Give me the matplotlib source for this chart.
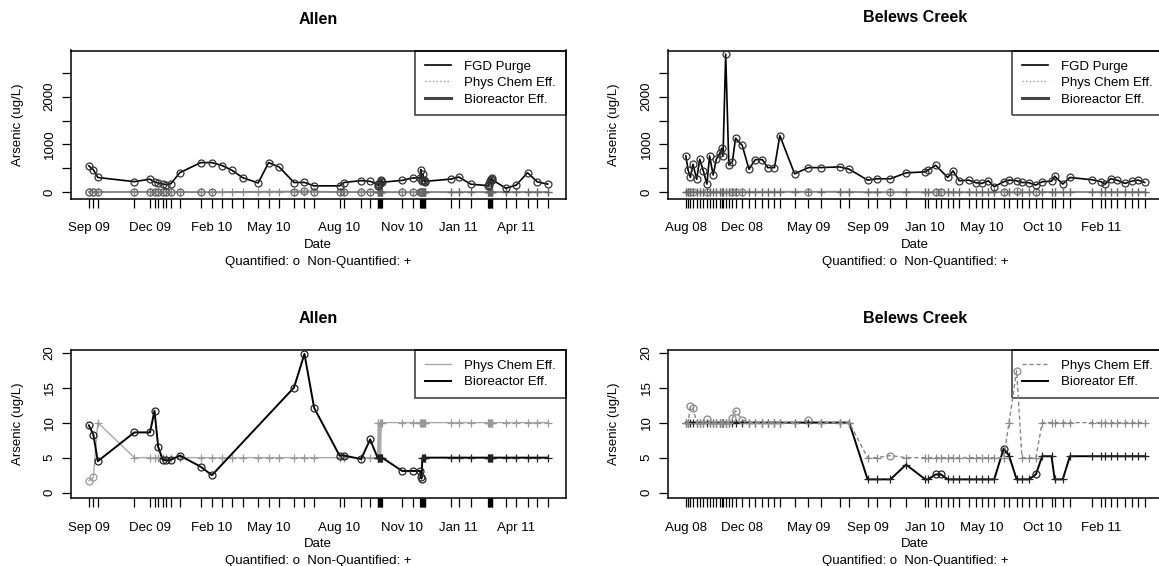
import numpy as np
import pandas as pd
import matplotlib
matplotlib.use('Agg')
import matplotlib.pyplot as plt
import matplotlib.dates as mdates
from matplotlib.lines import Line2D

plt.rcParams['font.family'] = ['Liberation Sans', 'DejaVu Sans']

# ---------------- Allen data ----------------
allen_start = '2009-09-15'
allen_day = [0, 6, 12, 61, 82, 88, 93, 99, 104, 110,
             122, 150, 165, 179, 192, 206, 227, 241, 255, 275,
             289, 302, 336, 342, 365, 377,
             387, 388, 389, 390, 391, 392, 393,
             420, 434,
             444, 445, 446, 447, 448, 449, 450, 451,
             485, 496, 512,
             535, 536, 537, 538, 539, 540, 541,
             559, 573, 588, 601, 615]
allen_fgd = [551, 474, 310, 223, 275, 216, 195, 174, 160, 181,
             411, 621, 621, 558, 460, 307, 195, 621, 530, 205,
             207, 135, 135, 205, 245, 230,
             170, 140, 160, 200, 230, 250, 210,
             250, 300,
             300, 476, 260, 230, 380, 250, 220, 230,
             276, 320, 170,
             140, 150, 190, 230, 270, 300, 260,
             85, 152, 410, 220, 170]
allen_phys = [1.7, 2.2, 10, 5, 5, 5, 5, 5, 5, 5,
              5, 5, 5, 5, 5, 5, 5, 5, 5, 5,
              5, 5, 5, 5, 5, 5,
              5, 10, 5, 10, 5, 10, 10,
              10, 10,
              10, 10, 10, 10, 10, 10, 10, 10,
              10, 10, 10,
              10, 10, 10, 10, 10, 10, 10,
              10, 10, 10, 10, 10]
allen_phys_q = "oo" + "++++++++++++++++++++++++++++++++++++++++++++++++++++++++"
nan = float('nan')
allen_bio = [9.6, 8.3, 4.5, 8.6, 8.6, 11.7, 6.5, 4.7, 4.6, 4.7,
             5.3, 3.7, 2.5, nan, nan, nan, nan, nan, nan, 15.0,
             19.8, 12.1, 5.3, 5.3, 4.8, 7.6,
             5, 5, 5, 5, 5, 5, 5,
             3.1, 3.1,
             3.1, 2.2, 2.0, 5, 5, 5, 5, 5,
             5, 5, 5,
             5, 5, 5, 5, 5, 5, 5,
             5, 5, 5, 5, 5]
allen_bio_q = ("ooooooooooooo" + "------" + "ooooooo" + "+++++++" + "oo" +
               "ooo" + "+++++" + "+++" + "+++++++" + "+++++")
allen_tick_idx = [0, 4, 12, 17, 22, 33, 44, 54]
allen_tick_labels = ['Sep 09', 'Dec 09', 'Feb 10', 'May 10', 'Aug 10',
                     'Nov 10', 'Jan 11', 'Apr 11']

# ---------------- Belews Creek data ----------------
belews_start = '2008-08-05'
belews_day = [0, 5, 10, 16, 24, 31, 39, 47, 53, 61, 68, 76, 80, 83, 89, 96, 104, 111,
              126, 141, 155, 171, 183, 198, 210, 243, 274, 301, 344, 365,
              406, 426, 457, 492,
              535, 541, 558, 570, 585, 597, 611, 632, 648, 661, 676, 689,
              710, 722, 739, 751, 766, 782, 796, 817, 824, 842, 858,
              908, 928, 936, 949, 963, 981, 996, 1010, 1025]
belews_fgd = [759, 466, 313, 586, 272, 690, 450, 174, 759, 362, 690, 816, 920, 759, 2890, 571, 640, 1130,
              979, 483, 683, 683, 517, 517, 1186, 386, 517, 517, 531, 483,
              255, 283, 283, 407,
              428, 462, 566, nan, 310, 448, 241, 255, 200, 186, 241, 117,
              221, 255, 241, 207, 200, 152, 221, 234, 338, 172, 310,
              262, 221, 166, 283, 255, 186, 234, 255, 207]
belews_phys = [10, 10, 12.3, 12.1, 10, 10, 10, 10.5, 10, 10, 10, 10, 10, 10, 10, 10, 10.6, 11.7,
               10.4, 10, 10, 10, 10, 10, 10, 10, 10.3, 10, 10, 10,
               5, 5, 5.3, 5,
               5, 5, 5, 5, 5, 5, 5, 5, 5, 5, 5, 5,
               5, 10, 17.4, 5, 5, 5, 10, 10, 10, 10, 10,
               10, 10, 10, 10, 10, 10, 10, 10, 10]
belews_phys_q = ("++" + "oo" + "+++" + "o" + "++++++++" + "ooo" + "+++++++" + "o" +
                 "+++++" + "o" + "+++++++++++++++" + "o" + "+++++++++++++++++")
belews_bio = [10, 10, 10, 10, 10, 10, 10, 10, 10, 10, 10, 10, 10, 10, 10, 10, 10, 10,
              10, 10, 10, 10, 10, 10, 10, 10, 10, 10, 10, 10,
              1.9, 1.9, 1.9, 4.0,
              1.9, 1.9, 2.6, 2.6, 1.9, 1.9, 1.9, 1.9, 1.9, 1.9, 1.9, 1.9,
              6.3, 5.3, 1.9, 1.9, 1.9, 2.6, 5.2, 5.2, 1.9, 1.9, 5.2,
              5.2, 5.2, 5.2, 5.2, 5.2, 5.2, 5.2, 5.2, 5.2]
belews_bio_q = ("++++++++++++++++++++++++++++++++++++" + "oo" + "++++++++" + "o" +
                "++++" + "o" + "++++++++++++++")
belews_tick_idx = [0, 18, 26, 30, 34, 43, 52, 58]
belews_tick_labels = ['Aug 08', 'Dec 08', 'May 09', 'Sep 09', 'Jan 10',
                      'May 10', 'Oct 10', 'Feb 11']

# ---------------- figure ----------------
W, H = 1159, 566
PT = 0.72  # points per pixel at 100 dpi
fig = plt.figure(figsize=(W / 100, H / 100), dpi=100)


def to_x(start, days):
    d = pd.Timestamp(start) + pd.to_timedelta(np.asarray(days), unit='D')
    return mdates.date2num(d.to_pydatetime())


def add_ax(l, t, r, b):
    return fig.add_axes([l / W, 1 - b / H, (r - l) / W, (b - t) / H])


def draw_series(ax, x, y, q, color, lw, mcolor, z, ls='-', dashes=None, ms=5):
    y = np.asarray(y, float)
    q = np.array(list(q))
    m = ~np.isnan(y)
    ln, = ax.plot(x[m], y[m], color=color, ls=ls, lw=lw, zorder=z)
    if dashes is not None:
        ln.set_dashes(dashes)
    mo = m & (q == 'o')
    mp = m & (q == '+')
    ax.plot(x[mo], y[mo], ls='none', marker='o', ms=ms, mfc='none', mec=mcolor,
            mew=0.9, zorder=z + 0.5)
    ax.plot(x[mp], y[mp], ls='none', marker='+', ms=ms + 1, mec=mcolor,
            mew=0.9, zorder=z + 0.5)


def setup(ax, x, tick_idx, tick_labels, ylim, ymaj, ymin, title, toff):
    span = x.max() - x.min()
    ax.set_xlim(x.min() - 0.04 * span, x.max() + 0.04 * span)
    ax.set_ylim(*ylim)
    ax.set_xticks(x[tick_idx], labels=tick_labels)
    ax.set_xticks(x, minor=True)
    ax.set_yticks(ymaj, labels=[str(v) for v in ymaj])
    ax.set_yticks(ymin, minor=True)
    ax.tick_params(which='both', direction='out', length=9 * PT, width=0.9,
                   color='black', top=False, right=False)
    ax.tick_params(axis='x', which='major', pad=14.3 * PT, labelsize=9.5)
    ax.tick_params(axis='y', which='major', pad=6 * PT, labelsize=9.5)
    for lab in ax.get_yticklabels():
        lab.set_rotation(90)
        lab.set_va('center')
    for s in ax.spines.values():
        s.set_linewidth(1.1)
        s.set_color('black')
    ax.annotate(title, xy=(0.5, 1), xycoords='axes fraction',
                xytext=(0, toff * PT), textcoords='offset points',
                ha='center', va='center', fontsize=11.5, fontweight='bold')
    ax.annotate('Date', xy=(0.5, 0), xycoords='axes fraction',
                xytext=(0, -46 * PT), textcoords='offset points',
                ha='center', va='center', fontsize=9.5)
    ax.annotate('Quantified: o  Non-Quantified: +', xy=(0.5, 0), xycoords='axes fraction',
                xytext=(0, -62.5 * PT), textcoords='offset points',
                ha='center', va='center', fontsize=9.5)
    ax.annotate('Arsenic (ug/L)', xy=(0, 0.5), xycoords='axes fraction',
                xytext=(-53 * PT, 0), textcoords='offset points',
                ha='center', va='center', rotation=90, fontsize=9.5)


def legend(ax, handles, labels):
    leg = ax.legend(handles, labels, loc='upper right', bbox_to_anchor=(1, 1),
                    borderaxespad=0, frameon=True, fancybox=False, edgecolor='black',
                    facecolor='none', framealpha=None, fontsize=9.5, handlelength=2.0,
                    handletextpad=1.0, borderpad=0.75, labelspacing=0.32)
    leg.get_frame().set_linewidth(1.1)
    leg.set_zorder(1)


xa = to_x(allen_start, allen_day)
xb = to_x(belews_start, belews_day)

top_ylim = (-140, 2966)
bot_ylim = (-0.8, 20.4)
top_maj, top_min = [0, 1000, 2000], [500, 1500, 2500]
bot_maj = [0, 5, 10, 15, 20]

# --- top left: Allen ---
ax1 = add_ax(70.5, 50.5, 566, 199)
draw_series(ax1, xa, allen_phys, allen_phys_q, '#9a9a9a', 1.0, '#888888', 2, ls=':')
draw_series(ax1, xa, allen_bio, allen_bio_q, '#888888', 1.4, '#666666', 3)
draw_series(ax1, xa, allen_fgd, 'o' * len(allen_fgd), 'black', 1.2, '#333333', 4)
setup(ax1, xa, allen_tick_idx, allen_tick_labels, top_ylim, top_maj, top_min, 'Allen', 30.5)
legend(ax1, [Line2D([], [], color='black', lw=1.2),
             Line2D([], [], color='#9a9a9a', lw=1.0, ls=':'),
             Line2D([], [], color='#444444', lw=2.2)],
       ['FGD Purge', 'Phys Chem Eff.', 'Bioreactor Eff.'])

# --- top right: Belews Creek ---
ax2 = add_ax(667.5, 50.5, 1163, 199)
draw_series(ax2, xb, belews_phys, belews_phys_q, '#9a9a9a', 1.0, '#888888', 2, ls=':')
draw_series(ax2, xb, belews_bio, belews_bio_q, '#888888', 1.4, '#666666', 3)
draw_series(ax2, xb, belews_fgd, 'o' * len(belews_fgd), 'black', 1.2, '#333333', 4)
setup(ax2, xb, belews_tick_idx, belews_tick_labels, top_ylim, top_maj, top_min, 'Belews Creek', 33)
legend(ax2, [Line2D([], [], color='black', lw=1.2),
             Line2D([], [], color='#9a9a9a', lw=1.0, ls=':'),
             Line2D([], [], color='#444444', lw=2.2)],
       ['FGD Purge', 'Phys Chem Eff.', 'Bioreactor Eff.'])

# --- bottom left: Allen ---
ax3 = add_ax(70.5, 349.7, 566, 498.3)
draw_series(ax3, xa, allen_phys, allen_phys_q, '#aaaaaa', 1.0, '#999999', 2)
draw_series(ax3, xa, allen_bio, allen_bio_q, 'black', 1.4, '#222222', 3)
setup(ax3, xa, allen_tick_idx, allen_tick_labels, bot_ylim, bot_maj, [], 'Allen', 31.5)
legend(ax3, [Line2D([], [], color='#aaaaaa', lw=1.0),
             Line2D([], [], color='black', lw=1.4)],
       ['Phys Chem Eff.', 'Bioreactor Eff.'])

# --- bottom right: Belews Creek ---
ax4 = add_ax(667.5, 349.7, 1163, 498.3)
draw_series(ax4, xb, belews_bio, belews_bio_q, 'black', 1.4, '#222222', 2)
draw_series(ax4, xb, belews_phys, belews_phys_q, '#888888', 1.0, '#888888', 3, dashes=(3, 2))
setup(ax4, xb, belews_tick_idx, belews_tick_labels, bot_ylim, bot_maj, [], 'Belews Creek', 31.5)
legend(ax4, [Line2D([], [], color='#888888', lw=1.0, dashes=(3, 2)),
             Line2D([], [], color='black', lw=1.4)],
       ['Phys Chem Eff.', 'Bioreator Eff.'])

fig.savefig('out.png', dpi=100)
